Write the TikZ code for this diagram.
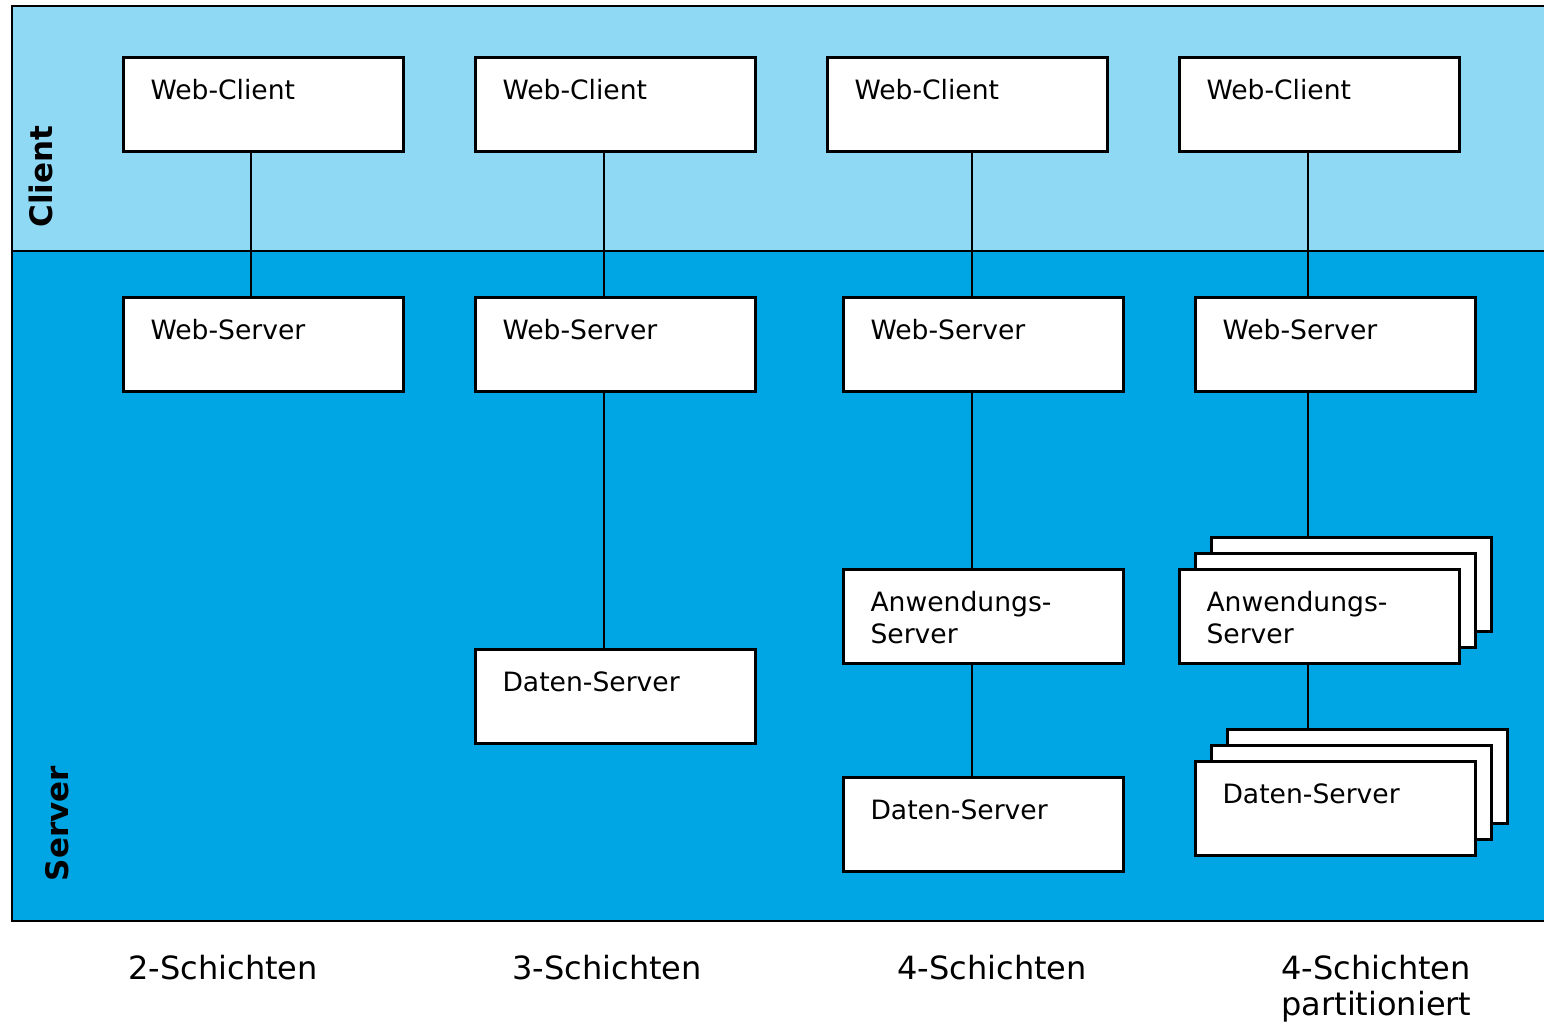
\documentclass[tikz,border=0pt]{standalone}
\usepackage{fontspec}
\setmainfont{DejaVu Sans}
\usetikzlibrary{calc}
\definecolor{clientblue}{RGB}{143,217,245}
\definecolor{serverblue}{RGB}{0,166,228}
\tikzset{
  box/.style={draw=black, line width=1.5pt, fill=white, inner xsep=13.5pt, inner ysep=0pt,
    text width=113pt, align=left, text height=20.75pt, text depth=26.25pt,
    font=\fontsize{13.3}{16}\selectfont},
  conn/.style={line width=1pt},
  tier/.style={anchor=base west, inner sep=0pt, text width=110pt, align=left,
    font=\fontsize{16}{18}\selectfont},
  layer/.style={inner sep=0pt, rotate=90, font=\fontsize{15.5}{18}\selectfont\bfseries}
}

\begin{document}
\begin{tikzpicture}[x=0.5pt,y=-0.5pt]
\useasboundingbox (0,0) rectangle (1544,1024);
%% Client / Server
\fill[clientblue] (12,6) rectangle (1560,251);
\fill[serverblue] (12,251) rectangle (1560,921);
\draw[line width=1pt] (1560,6) -- (12,6) -- (12,921) -- (1560,921);
\draw[line width=1pt] (12,251) -- (1560,251);
\node[layer] (client) at (41,176.5) {Client};
\node[layer] (server) at (57.5,823.5) {Server};

%% 2-Schichten
\node[box] (wc1) at (263.5,104.5) {Web-Client};
\node[box] (ws1) at (263.5,344.5) {Web-Server};
%% 3-Schichten
\node[box] (wc2) at (615.5,104.5) {Web-Client};
\node[box] (ws2) at (615.5,344.5) {Web-Server};
\node[box] (ds2) at (615.5,696.5) {Daten-Server};
%% 4-Schichten
\node[box] (wc3) at (967.5,104.5) {Web-Client};
\node[box] (ws3) at (983.5,344.5) {Web-Server};
\node[box] (an3) at (983.5,616.5) {Anwendungs-\\Server};
\node[box] (ds3) at (983.5,824.5) {Daten-Server};
%% 4-Schichten partitioniert
\node[box] (wc4) at (1319.5,104.5) {Web-Client};
\node[box] (ws4) at (1335.5,344.5) {Web-Server};
\node[box] (an4c) at (1351.5,584.5) {};
\node[box] (an4b) at (1335.5,600.5) {};
\node[box] (an4) at (1319.5,616.5) {Anwendungs-\\Server};
\node[box] (ds4c) at (1367.5,776.5) {};
\node[box] (ds4b) at (1351.5,792.5) {};
\node[box] (ds4) at (1335.5,808.5) {Daten-Server};

%% Verbindungen
\coordinate (c1) at (251,0);
\coordinate (c2) at (603.5,0);
\coordinate (c3) at (972,0);
\coordinate (c4) at (1308,0);
\draw[conn] (wc1.south -| c1) -- (ws1.north -| c1);
\draw[conn] (wc2.south -| c2) -- (ws2.north -| c2);
\draw[conn] (ws2.south -| c2) -- (ds2.north -| c2);
\draw[conn] (wc3.south -| c3) -- (ws3.north -| c3);
\draw[conn] (ws3.south -| c3) -- (an3.north -| c3);
\draw[conn] (an3.south -| c3) -- (ds3.north -| c3);
\draw[conn] (wc4.south -| c4) -- (ws4.north -| c4);
\draw[conn] (ws4.south -| c4) -- (an4c.north -| c4);
\draw[conn] (an4.south -| c4) -- (ds4c.north -| c4);

%% Beschriftung
\node[tier] (t2) at (128,979) {2-Schichten};
\node[tier] (t3) at (512,979) {3-Schichten};
\node[tier] (t4) at (897,979) {4-Schichten};
\node[tier] (t4p) at (1281,979) {4-Schichten\\partitioniert};
\end{tikzpicture}
\end{document}
